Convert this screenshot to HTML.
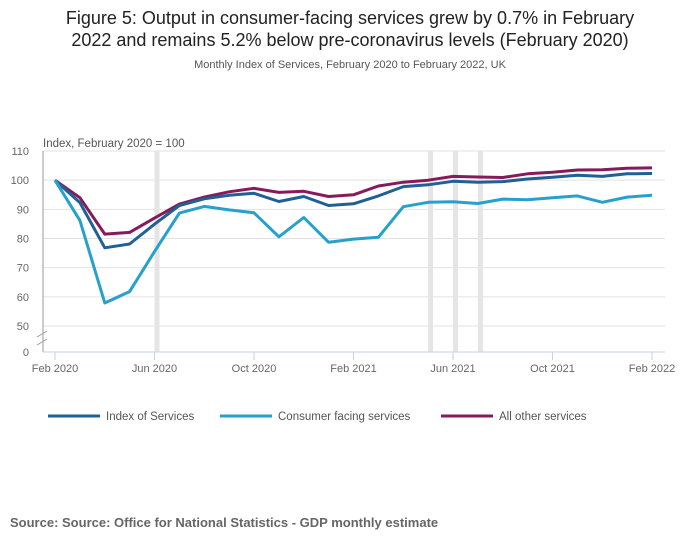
<!DOCTYPE html>
<html><head><meta charset="utf-8">
<style>
body{margin:0;background:#fff;font-family:"Liberation Sans",sans-serif;}
#wrap{position:relative;width:700px;height:549px;overflow:hidden;}
svg text{font-family:"Liberation Sans",sans-serif;}
</style></head>
<body>
<div id="wrap">
<svg id="chart" width="700" height="549">
<text x="350" y="24" text-anchor="middle" font-size="18" fill="#222">Figure 5: Output in consumer-facing services grew by 0.7% in February</text>
<text x="350" y="46" text-anchor="middle" font-size="18" fill="#222">2022 and remains 5.2% below pre-coronavirus levels (February 2020)</text>
<text x="350" y="68" text-anchor="middle" font-size="11" fill="#555">Monthly Index of Services, February 2020 to February 2022, UK</text>
<text x="43" y="147" font-size="11.5" fill="#555">Index, February 2020 = 100</text>
<g id="grid"></g><g id="shade"></g><g id="axes"></g><g id="lines"></g>
<g>
<line x1="48" y1="416" x2="100" y2="416" stroke="#206095" stroke-width="3"/>
<text x="106" y="420" font-size="11.5" fill="#555">Index of Services</text>
<line x1="220" y1="416" x2="272" y2="416" stroke="#27a0cc" stroke-width="3"/>
<text x="278" y="420" font-size="11.5" fill="#555">Consumer facing services</text>
<line x1="441" y1="416" x2="493" y2="416" stroke="#871a5b" stroke-width="3"/>
<text x="499" y="420" font-size="11.5" fill="#555">All other services</text>
</g>
<text x="10" y="527" font-size="13" font-weight="bold" fill="#666">Source: Source: Office for National Statistics - GDP monthly estimate</text>
</svg>
</div>
<script>
const months = ["Feb 2020","Mar 2020","Apr 2020","May 2020","Jun 2020","Jul 2020","Aug 2020","Sep 2020","Oct 2020","Nov 2020","Dec 2020","Jan 2021","Feb 2021","Mar 2021","Apr 2021","May 2021","Jun 2021","Jul 2021","Aug 2021","Sep 2021","Oct 2021","Nov 2021","Dec 2021","Jan 2022","Feb 2022"];
const indexServices = [100,92.3,76.8,78.1,84.9,91.3,93.6,94.8,95.5,92.7,94.4,91.3,91.9,94.6,97.8,98.4,99.6,99.3,99.5,100.4,101,101.7,101.3,102.2,102.3];
const consumerFacing = [100,86.2,57.9,61.8,75.5,88.7,91,89.8,88.8,80.6,87.2,78.7,79.8,80.4,90.9,92.4,92.6,92,93.5,93.3,94,94.6,92.4,94.2,94.8];
const allOther = [100,94,81.5,82.1,87,91.8,94.2,96,97.2,95.8,96.2,94.4,95,98,99.3,100,101.3,101.1,100.9,102.2,102.7,103.5,103.6,104.1,104.2];
const yTicks = [50,60,70,80,90,100,110];
const xTickIdx = [0,4,8,12,16,20,24];
const shadeMonths = [4.1,15.1,16.1,17.1];

const NS="http://www.w3.org/2000/svg";
const x0=55,x1=652,left=43,right=665,bottom=352;
function xs(i){return x0+(x1-x0)*i/(months.length-1);}
function ys(v){return 326-(v-50)*(175/60);}
function mk(tag,attrs,parent){const e=document.createElementNS(NS,tag);for(const k in attrs)e.setAttribute(k,attrs[k]);document.getElementById(parent).appendChild(e);return e;}

yTicks.forEach(t=>{
  const g=mk('line',{x1:left,x2:right,y1:ys(t),y2:ys(t),stroke:'#e2e2e2','stroke-width':1},'grid');
  
  
  const l=mk('text',{x:29,y:ys(t)+4,'text-anchor':'end','font-size':11,fill:'#666'},'axes');
  l.textContent=t;
  
  
});
const z=mk('text',{x:29,y:bottom+4,'text-anchor':'end','font-size':11,fill:'#666'},'axes');
z.textContent='0';


const ya=mk('line',{x1:left,x2:left,y1:151,y2:bottom,stroke:'#999','stroke-width':1},'axes');


const br=mk('path',{d:'M37,337 L47,331 M37,345 L47,339',stroke:'#999',fill:'none'},'axes');


const xa=mk('line',{x1:left,x2:right,y1:bottom,y2:bottom,stroke:'#c6d0e6','stroke-width':1},'axes');



shadeMonths.forEach(m=>{
  const r=mk('rect',{x:xs(m)-2.5,y:151,width:5,height:bottom-151,fill:'#e5e5e5'},'shade');
  
  
});

xTickIdx.forEach(i=>{
  const t=mk('line',{x1:xs(i),x2:xs(i),y1:bottom,y2:bottom+8,stroke:'#c6d0e6'},'axes');
  
  
  const l=mk('text',{x:xs(i),y:bottom+20,'text-anchor':'middle','font-size':11,fill:'#666'},'axes');
  l.textContent=months[i].replace('Feb','Feb').replace(/^(\w+) /,'$1 ');
  
  
});

[[allOther,'#871a5b','line-all-other-services'],[indexServices,'#206095','line-index-of-services'],[consumerFacing,'#27a0cc','line-consumer-facing-services']].forEach(([d,c,n])=>{
  const p=mk('path',{d:d.map((v,i)=>(i?'L':'M')+xs(i).toFixed(1)+','+ys(v).toFixed(1)).join(' '),fill:'none',stroke:c,'stroke-width':3,'stroke-linejoin':'round'},'lines');
  
  
});
</script>
</body></html>
